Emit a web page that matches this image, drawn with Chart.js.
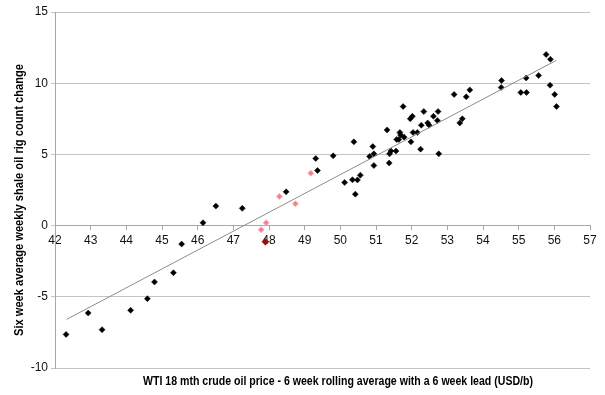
<!DOCTYPE html>
<html>
<head>
<meta charset="utf-8">
<script src="https://cdn.jsdelivr.net/npm/chart.js@4"></script>
<style>
  body { margin: 0; background: #fff; }
  canvas { display: block; }
</style>
</head>
<body>
<canvas id="rigChart" width="605" height="395"></canvas>
<script>
// weekly observations (black diamonds)
const blackX = [42.31, 42.93, 43.32, 44.12, 44.59, 44.79, 45.32, 45.55, 46.15, 46.51, 47.25, 48.48,
  49.31, 49.36, 49.80, 50.12, 50.34, 50.38, 50.42, 50.48, 50.56, 50.82, 50.91, 50.94, 50.94,
  51.31, 51.37, 51.38, 51.42, 51.56, 51.58, 51.64, 51.67, 51.69, 51.76, 51.79, 51.96, 51.98,
  52.02, 52.04, 52.16, 52.25, 52.27, 52.34, 52.45, 52.49, 52.61, 52.72, 52.74, 52.76,
  53.19, 53.35, 53.42, 53.53, 53.63, 54.51, 54.52, 55.06, 55.22, 55.21, 55.56, 55.77, 55.89,
  55.88, 56.01, 56.06];
const blackY = [-7.64, -6.14, -7.31, -5.95, -5.13, -3.96, -3.31, -1.30, 0.20, 1.37, 1.21, 2.37,
  4.71, 3.87, 4.90, 3.03, 3.22, 5.88, 2.21, 3.21, 3.54, 4.86, 5.55, 5.04, 4.22,
  6.72, 4.39, 5.04, 5.23, 5.23, 6.05, 6.05, 6.54, 6.37, 8.36, 6.21, 7.50, 5.88,
  7.68, 6.54, 6.54, 5.37, 7.05, 8.01, 7.21, 7.05, 7.68, 7.38, 8.01, 5.04,
  9.21, 7.21, 7.50, 9.04, 9.53, 9.70, 10.19, 9.35, 9.35, 10.37, 10.54, 12.01, 11.68,
  9.86, 9.21, 8.36];

// recent weeks (pink) and latest week (dark red)
const pinkX = [47.78, 47.92, 48.29, 48.74, 49.17];
const pinkY = [-0.29, 0.20, 2.05, 1.53, 3.68];
const latestX = [47.90];
const latestY = [-1.14];

// linear trend line end points
const trendX = [42.33, 56.06];
const trendY = [-6.58, 11.61];

const xTitle = 'WTI 18 mth crude oil price - 6 week rolling average with a 6 week lead (USD/b)';
const yTitle = 'Six week average weekly shale oil rig count change';

function toPoints(xs, ys) {
    return xs.map((x, i) => ({ x: x, y: ys[i] }));
}

// axis titles, squeezed a little like the original
const titlePlugin = {
    id: 'axisTitles',
    afterDraw(chart) {
        const ctx = chart.ctx;
        ctx.save();
        ctx.font = 'bold 12px "Liberation Sans", Arial, sans-serif';
        ctx.fillStyle = '#000';
        ctx.textAlign = 'center';
        ctx.textBaseline = 'middle';

        let w = ctx.measureText(xTitle).width;
        ctx.save();
        ctx.translate(338, 382);
        ctx.scale(390 / w, 1);
        ctx.fillText(xTitle, 0, 0);
        ctx.restore();

        w = ctx.measureText(yTitle).width;
        ctx.save();
        ctx.translate(20, 200);
        ctx.rotate(-Math.PI / 2);
        ctx.scale(272 / w, 1);
        ctx.fillText(yTitle, 0, 0);
        ctx.restore();

        ctx.restore();
    }
};

const tickFont = { family: '"Liberation Sans", Arial, sans-serif', size: 12 };

new Chart(document.getElementById('rigChart'), {
    type: 'scatter',
    data: {
        datasets: [
            {
                type: 'line',
                data: toPoints(trendX, trendY),
                borderColor: '#8c8c8c',
                borderWidth: 1,
                pointRadius: 0,
                fill: false
            },
            {
                data: toPoints(blackX, blackY),
                backgroundColor: '#000',
                borderColor: '#000',
                borderWidth: 0.5,
                pointStyle: 'rectRot',
                pointRadius: 3
            },
            {
                data: toPoints(pinkX, pinkY),
                backgroundColor: '#f4808e',
                borderColor: '#f7b3bd',
                borderWidth: 1,
                pointStyle: 'rectRot',
                pointRadius: 3
            },
            {
                data: toPoints(latestX, latestY),
                backgroundColor: '#9e0b0b',
                borderColor: '#9e0b0b',
                borderWidth: 0.5,
                pointStyle: 'rectRot',
                pointRadius: 3.5
            }
        ]
    },
    options: {
        responsive: false,
        animation: false,
        layout: { padding: { top: 12, right: 15, bottom: 27, left: 0 } },
        plugins: {
            legend: { display: false },
            tooltip: { enabled: false }
        },
        scales: {
            x: {
                type: 'linear',
                position: { y: 0 },
                min: 42,
                max: 57,
                ticks: { stepSize: 1, color: '#111', font: tickFont, padding: 4, maxRotation: 0 },
                grid: { drawOnChartArea: false, tickLength: 4, color: '#a6a6a6' },
                border: { color: '#a6a6a6' }
            },
            y: {
                min: -10,
                max: 15,
                ticks: { stepSize: 5, color: '#111', font: tickFont, padding: 3 },
                grid: { color: '#c4c4c4', tickLength: 4 },
                border: { color: '#a6a6a6' },
                afterFit(scale) { scale.width = 55; }
            }
        }
    },
    plugins: [titlePlugin]
});
</script>
</body>
</html>
